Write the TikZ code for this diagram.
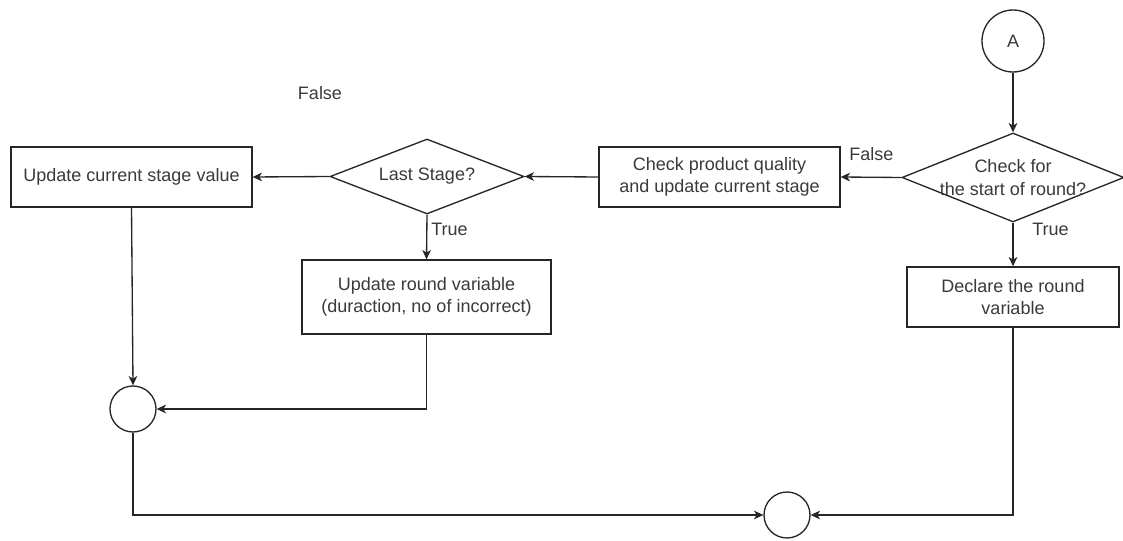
\documentclass[tikz,border=0pt]{standalone}
\usepackage{fontspec}
\setmainfont{Liberation Sans}
\usetikzlibrary{arrows.meta,shapes.geometric}
\definecolor{linec}{HTML}{262626}
\definecolor{txtc}{HTML}{3A3A3A}
\begin{document}
\begin{tikzpicture}[
  x=0.75pt, y=-0.75pt,
  font=\fontsize{13.5}{16.9}\selectfont,
  every node/.style={text=txtc},
  proc/.style={draw=linec, line width=1pt, fill=white, align=center, inner sep=0pt},
  decision/.style={draw=linec, line width=1pt, fill=white, shape=diamond, inner sep=0pt},
  joint/.style={draw=linec, line width=1pt, fill=white, shape=circle, inner sep=0pt},
  flow/.style={draw=linec, line width=1pt, -{Stealth[length=7pt,width=6.5pt,inset=2pt]}},
  lbl/.style={inner sep=0pt}
]
\useasboundingbox (0,0) rectangle (1123,541);

% connector and decision boxes
\node[joint, minimum size=46.5pt] (a) at (1013,41) {A};
\node[decision, minimum width=166.5pt, minimum height=66.75pt] (d1) at (1013,177.5) {};
\node[align=center] at (d1) {Check for\\the start of round?};
\node[proc, minimum width=180.75pt, minimum height=45pt] (b1) at (719.5,177)
  {Check product quality\\and update current stage};
\node[decision, minimum width=145.5pt, minimum height=56.25pt] (d2) at (427,176.5) {};
\node at (d2) {Last Stage?};
\node[proc, minimum width=180.75pt, minimum height=45pt] (b2) at (131.5,177)
  {Update current stage value};
\node[proc, minimum width=186.75pt, minimum height=55.5pt] (b3) at (426.5,297)
  {Update round variable\\(duraction, no of incorrect)};
\node[proc, minimum width=159pt, minimum height=45pt] (b4) at (1013,297)
  {Declare the round\\variable};

% merge points
\node[joint, minimum size=34.5pt] (c1) at (133,409) {};
\node[joint, minimum size=34.5pt] (c2) at (787,515) {};

% branch labels
\node[lbl, anchor=west] (lfalse1) at (849,154) {False};
\node[lbl, anchor=west] (ltrue1) at (1032,229) {True};
\node[lbl, anchor=west] (ltrue2) at (431,229) {True};
\node[lbl] (lfalse2) at (320,93) {False};

% flow
\draw[flow] (a) -- (d1.north);
\draw[flow] (d1.west) -- (b1.east);
\draw[flow] (b1.west) -- (d2.east);
\draw[flow] (d2.west) -- (b2.east);
\draw[flow] (d2.south) -- (b3.north);
\draw[flow] (d1.south) -- (b4.north);
\draw[flow] (b2.south) -- (c1.north);
\draw[flow] (b3.south) |- (c1.east);
\draw[flow] (c1.south) |- (c2.west);
\draw[flow] (b4.south) |- (c2.east);
\end{tikzpicture}
\end{document}
